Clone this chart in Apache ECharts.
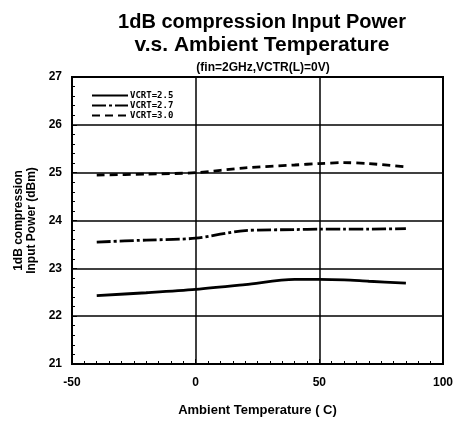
<!DOCTYPE html>
<html>
<head>
<meta charset="utf-8">
<script src="https://cdn.jsdelivr.net/npm/echarts@6/dist/echarts.min.js"></script>
<style>
html,body{margin:0;padding:0;background:#fff;}
#chart{width:457px;height:422px;}
</style>
</head>
<body>
<div id="chart"></div>
<script>
// Ambient temperature (°C) sample points
const temps = [-40, -20, 0, 20, 40, 50, 60, 70, 85];
// 1dB compression input power (dBm) for each control voltage
const vcrt25 = [22.43, 22.49, 22.56, 22.66, 22.77, 22.77, 22.76, 22.73, 22.69];
const vcrt27 = [23.55, 23.59, 23.63, 23.79, 23.81, 23.82, 23.82, 23.82, 23.83];
const vcrt30 = [24.95, 24.97, 25.00, 25.10, 25.16, 25.19, 25.21, 25.19, 25.12];
const seriesNames = ['VCRT=2.5', 'VCRT=2.7', 'VCRT=3.0'];

const pair = (xs, ys) => xs.map((x, i) => [x, ys[i]]);
const boldFont = '"Liberation Sans", Arial, sans-serif';

const chart = echarts.init(document.getElementById('chart'));
chart.setOption({
  animation: false,
  backgroundColor: '#fff',
  title: [
    {
      text: '{a|1dB compression Input Power}\n{b|v.s. Ambient Temperature}',
      left: 257, top: 6, textAlign: 'center',
      textStyle: {
        rich: {
          a: {fontFamily: boldFont, fontWeight: 'bold', fontSize: 20, lineHeight: 23, color: '#000', align: 'center'},
          b: {fontFamily: boldFont, fontWeight: 'bold', fontSize: 21, lineHeight: 23, color: '#000', align: 'center'}
        }
      }
    },
    {
      text: '(fin=2GHz,VCTR(L)=0V)',
      left: 258, top: 57, textAlign: 'center',
      textStyle: {fontFamily: boldFont, fontWeight: 'bold', fontSize: 12, color: '#000'}
    }
  ],
  legend: {
    orient: 'vertical', left: 86, top: 86, itemGap: 1,
    itemWidth: 36, itemHeight: 9,
    data: seriesNames,
    itemStyle: {opacity: 0},
    textStyle: {fontFamily: '"DejaVu Sans Mono", monospace', fontWeight: 'bold', fontSize: 9, color: '#000', padding: [0, 0, 0, -3]}
  },
  grid: {left: 72, right: 14, top: 77, bottom: 55, show: true, borderColor: '#000', borderWidth: 2},
  xAxis: {
    type: 'value', min: -50, max: 100, interval: 50,
    name: 'Ambient Temperature ( C)', nameLocation: 'middle', nameGap: 40,
    nameTextStyle: {fontFamily: boldFont, fontWeight: 'bold', fontSize: 13, color: '#000'},
    axisLine: {onZero: false, lineStyle: {color: '#000', width: 2}},
    axisTick: {inside: true, length: 5, lineStyle: {color: '#000'}},
    minorTick: {show: true, splitNumber: 10, length: 3, lineStyle: {color: '#000'}},
    axisLabel: {fontFamily: boldFont, fontWeight: 'bold', fontSize: 12, color: '#000', margin: 13},
    splitLine: {show: true, lineStyle: {color: '#000', width: 1.5}}
  },
  yAxis: {
    type: 'value', min: 21, max: 27, interval: 1,
    name: '1dB compression\nInput Power (dBm)', nameLocation: 'middle', nameGap: 33, nameRotate: 90,
    nameTextStyle: {fontFamily: boldFont, fontWeight: 'bold', fontSize: 12, lineHeight: 13, color: '#000'},
    axisLine: {onZero: false, lineStyle: {color: '#000', width: 2}},
    axisTick: {inside: true, length: 5, lineStyle: {color: '#000'}},
    minorTick: {show: true, splitNumber: 5, length: 3, lineStyle: {color: '#000'}},
    axisLabel: {fontFamily: boldFont, fontWeight: 'bold', fontSize: 12, color: '#000', margin: 10},
    splitLine: {show: true, lineStyle: {color: '#000', width: 1.5}}
  },
  series: [
    {name: seriesNames[0], type: 'line', data: pair(temps, vcrt25), symbol: 'none', smooth: 0.3,
     lineStyle: {color: '#000', width: 2.8, type: 'solid'}, itemStyle: {color: '#000'}},
    {name: seriesNames[1], type: 'line', data: pair(temps, vcrt27), symbol: 'none', smooth: 0.3,
     lineStyle: {color: '#000', width: 2.8, type: [14, 3, 3, 3]}, itemStyle: {color: '#000'}},
    {name: seriesNames[2], type: 'line', data: pair(temps, vcrt30), symbol: 'none', smooth: 0.3,
     lineStyle: {color: '#000', width: 2.8, type: [8, 5]}, itemStyle: {color: '#000'}}
  ]
});
</script>
</body>
</html>
